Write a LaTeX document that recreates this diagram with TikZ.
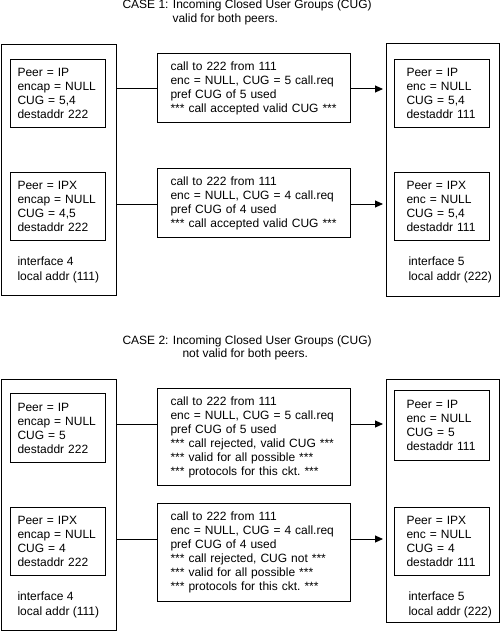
\documentclass[tikz,border=0pt]{standalone}
\usepackage{fontspec}
\setmainfont{Liberation Sans}
\usetikzlibrary{calc, arrows.meta}

\begin{document}
\begin{tikzpicture}[x=1pt,y=-1pt,line width=1pt,
  every node/.style={inner sep=0pt,font=\fontsize{12}{14}\selectfont},
  outer/.style={draw,anchor=north west,minimum width=113pt},
  peer/.style={draw,anchor=north west,minimum width=95pt,minimum height=68pt,text width=81pt,align=left},
  rpeer/.style={peer,text width=71pt},
  call/.style={draw,anchor=north west,minimum width=193pt,text width=167pt,align=left},
  addr/.style={anchor=west,align=left,font=\fontsize{12}{15}\selectfont},
  title/.style={anchor=base west},
  link/.style={-{Triangle[length=8pt,width=7pt]},shorten >=3pt}]
  \useasboundingbox (0,0) rectangle (500,631);

  % case 1
  \node[title] (t1) at (122,9) {CASE 1: Incoming Closed User Groups (CUG)};
  \node[title] (t1b) at (172,23) {valid for both peers.};
  \node[outer,minimum width=115pt,minimum height=251pt] (l1) at (0.5,44) {};
  \node[peer] (l1a) at (10,59) {Peer = IP\\encap = NULL\\CUG = 5,4\\destaddr 222};
  \node[peer] (l1b) at (10,172) {Peer = IPX\\encap = NULL\\CUG = 4,5\\destaddr 222};
  \node[addr] (l1c) at (17,270) {interface 4\\local addr (111)};
  \node[call,minimum height=69pt] (m1) at (157,53) {call to 222 from 111\\enc = NULL, CUG = 5 call.req\\pref CUG of 5 used\\{}*** call accepted valid CUG ***};
  \node[call,minimum height=69pt] (m2) at (157,168) {call to 222 from 111\\enc = NULL, CUG = 4 call.req\\pref CUG of 4 used\\{}*** call accepted valid CUG ***};
  \node[outer,minimum height=253pt] (r1) at (386,43) {};
  \node[rpeer] (r1a) at (394,59) {Peer = IP\\enc = NULL\\CUG = 5,4\\destaddr 111};
  \node[rpeer] (r1b) at (394,172) {Peer = IPX\\enc = NULL\\CUG = 5,4\\destaddr 111};
  \node[addr] (r1c) at (408,270) {interface 5\\local addr (222)};

  % case 2
  \node[title] (t2) at (122,344) {CASE 2: Incoming Closed User Groups (CUG)};
  \node[title] (t2b) at (182,357) {not valid for both peers.};
  \node[outer,minimum width=115pt,minimum height=251pt] (l2) at (0.5,379) {};
  \node[peer,minimum height=69pt] (l2a) at (10,393) {Peer = IP\\encap = NULL\\CUG = 5\\destaddr 222};
  \node[peer] (l2b) at (10,507) {Peer = IPX\\encap = NULL\\CUG = 4\\destaddr 222};
  \node[addr] (l2c) at (17,605) {interface 4\\local addr (111)};
  \node[call,minimum height=97pt] (m3) at (157,388) {call to 222 from 111\\enc = NULL, CUG = 5 call.req\\pref CUG of 5 used\\{}*** call rejected, valid CUG ***\\{}*** valid for all possible ***\\{}*** protocols for this ckt.\ ***};
  \node[call,minimum height=98pt] (m4) at (157,503) {call to 222 from 111\\enc = NULL, CUG = 4 call.req\\pref CUG of 4 used\\{}*** call rejected, CUG not ***\\{}*** valid for all possible ***\\{}*** protocols for this ckt.\ ***};
  \node[outer,minimum height=243pt] (r2) at (386,379) {};
  \node[rpeer,minimum height=70pt] (r2a) at (394,390) {Peer = IP\\enc = NULL\\CUG = 5\\destaddr 111};
  \node[rpeer] (r2b) at (394,507) {Peer = IPX\\enc = NULL\\CUG = 4\\destaddr 111};
  \node[addr] (r2c) at (408,605) {interface 5\\local addr (222)};

  \foreach \m/\l/\r in {m1/l1/r1,m2/l1/r1,m3/l2/r2,m4/l2/r2} {
    \coordinate (c) at ($(\m.north west)+(0,36)$);
    \draw (\m.west |- c) -- (\l.east |- c);
    \draw[link] (\m.east |- c) -- (\r.west |- c);
  }
\end{tikzpicture}
\end{document}
